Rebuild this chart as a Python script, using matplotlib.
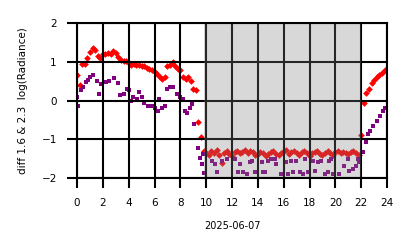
import numpy as np
import matplotlib
matplotlib.use("Agg")
import matplotlib.pyplot as plt

# red series: diff 1.6 & 2.3, sampled every 0.2 h
red_hours = np.arange(0, 24, 0.2)
red_vals = [
    0.65, 0.4, 0.95, 0.95, 1.1, 1.25, 1.35, 1.3, 1.15, 1.1,
    1.2, 1.2, 1.22, 1.2, 1.28, 1.22, 1.12, 1.05, 1.03, 1.02,
    0.97, 0.93, 0.95, 0.92, 0.93, 0.9, 0.88, 0.85, 0.82, 0.8,
    0.75, 0.68, 0.6, 0.55, 0.6, 0.88, 0.92, 1.0, 0.9, 0.82,
    0.8, 0.6, 0.55, 0.62, 0.5, 0.3, 0.28, -0.55, -0.95, -1.3,
    -1.35, -1.4, -1.3, -1.35, -1.28, -1.4, -1.6, -1.35, -1.3, -1.38,
    -1.42, -1.32, -1.3, -1.36, -1.33, -1.28, -1.35, -1.3, -1.32, -1.4,
    -1.38, -1.33, -1.36, -1.42, -1.38, -1.33, -1.3, -1.37, -1.4, -1.35,
    -1.3, -1.28, -1.38, -1.33, -1.3, -1.35, -1.4, -1.32, -1.3, -1.36,
    -1.42, -1.35, -1.33, -1.3, -1.37, -1.4, -1.35, -1.3, -1.35, -1.4,
    -1.33, -1.3, -1.36, -1.32, -1.35, -1.38, -1.33, -1.3, -1.36, -1.4,
    -0.9, -0.05, 0.2, 0.3, 0.45, 0.52, 0.6, 0.65, 0.72, 0.8,
]

# purple series
purple_hours = [
    0.0, 0.08, 0.31, 0.46, 0.70, 0.85, 1.0, 1.24, 1.55, 1.70,
    1.86, 2.24, 2.48, 2.86, 3.17, 3.33, 3.64, 3.87, 4.02, 4.18,
    4.33, 4.64, 4.80, 5.03, 5.19, 5.50, 5.80, 6.04, 6.27, 6.35,
    6.58, 6.81, 6.97, 7.20, 7.43, 7.74, 7.97, 8.20, 8.36, 8.51,
    8.75, 8.90, 9.06, 9.37, 9.52, 9.67, 9.75, 9.83, 10.45, 10.68,
    10.84, 11.22, 11.61, 12.23, 12.46, 12.62, 12.85, 13.16, 13.39, 13.54,
    13.78, 14.32, 14.40, 14.55, 14.78, 15.0, 15.3, 15.4, 15.8, 16.2,
    16.3, 16.56, 16.7, 16.95, 17.26, 17.5, 17.65, 17.9, 18.27, 18.4,
    18.65, 18.9, 19.2, 19.43, 19.5, 19.66, 19.8, 20.28, 20.67, 20.97,
    21.05, 21.36, 21.6, 21.75, 21.83, 22.1, 22.37, 22.52, 22.68, 22.9,
    23.2, 23.45, 23.68, 23.84,
]
purple_vals = [
    0.08, -0.15, 0.28, 0.36, 0.47, 0.52, 0.62, 0.65, 0.5, 0.18,
    0.43, 0.48, 0.5, 0.58, 0.45, 0.14, 0.16, 0.31, 0.26, 0.0,
    0.08, 0.03, 0.22, 0.1, -0.07, -0.15, -0.15, -0.18, -0.26, 0.04,
    -0.18, -0.13, 0.3, 0.35, 0.36, 0.17, 0.08, 0.04, -0.26, -0.33,
    -0.18, -0.08, -0.6, -1.22, -1.48, -1.64, -1.38, -1.87, -1.56, -1.64,
    -1.84, -1.56, -1.5, -1.5, -1.84, -1.64, -1.84, -1.9, -1.58, -1.56,
    -1.84, -1.58, -1.84, -1.84, -1.56, -1.5, -1.5, -1.64, -1.9, -1.58,
    -1.9, -1.56, -1.84, -1.56, -1.84, -1.9, -1.5, -1.84, -1.56, -1.82,
    -1.58, -1.56, -1.9, -1.84, -1.56, -1.5, -1.9, -1.9, -1.7, -1.5,
    -1.82, -1.77, -1.68, -1.5, -1.58, -1.33, -1.07, -0.85, -0.78, -0.65,
    -0.52, -0.39, -0.26, -0.18,
]

fig = plt.figure(figsize=(4.14, 2.48), dpi=100)
ax = fig.add_axes([0.186, 0.282, 0.749, 0.625])

ax.plot(red_hours, red_vals, linestyle="none", marker="D",
        markersize=3.4, color="red", markeredgewidth=0, zorder=2)
ax.plot(purple_hours, purple_vals, linestyle="none", marker="s",
        markersize=3.0, color="purple", markeredgewidth=0, zorder=2)

# night period shading
ax.axvspan(9.85, 22.0, color="gray", alpha=0.3, linewidth=0, zorder=3)

ax.set_xlim(0, 24)
ax.set_ylim(-2, 2)
ax.set_xticks(range(0, 25, 2))
ax.set_yticks([-2, -1, 0, 1, 2])
ax.grid(True, color="black", linewidth=1.5, zorder=4)
ax.set_axisbelow(False)
for s in ax.spines.values():
    s.set_linewidth(1.5)
    s.set_zorder(5)
ax.tick_params(direction="out", length=7, width=1.5, labelsize=7.5, pad=7.5)
ax.set_xlabel("2025-06-07", fontsize=7, labelpad=9)
ax.set_ylabel("diff 1.6 & 2.3  log(Radiance)", fontsize=7.5, labelpad=10)

fig.savefig("out.png", dpi=100)
